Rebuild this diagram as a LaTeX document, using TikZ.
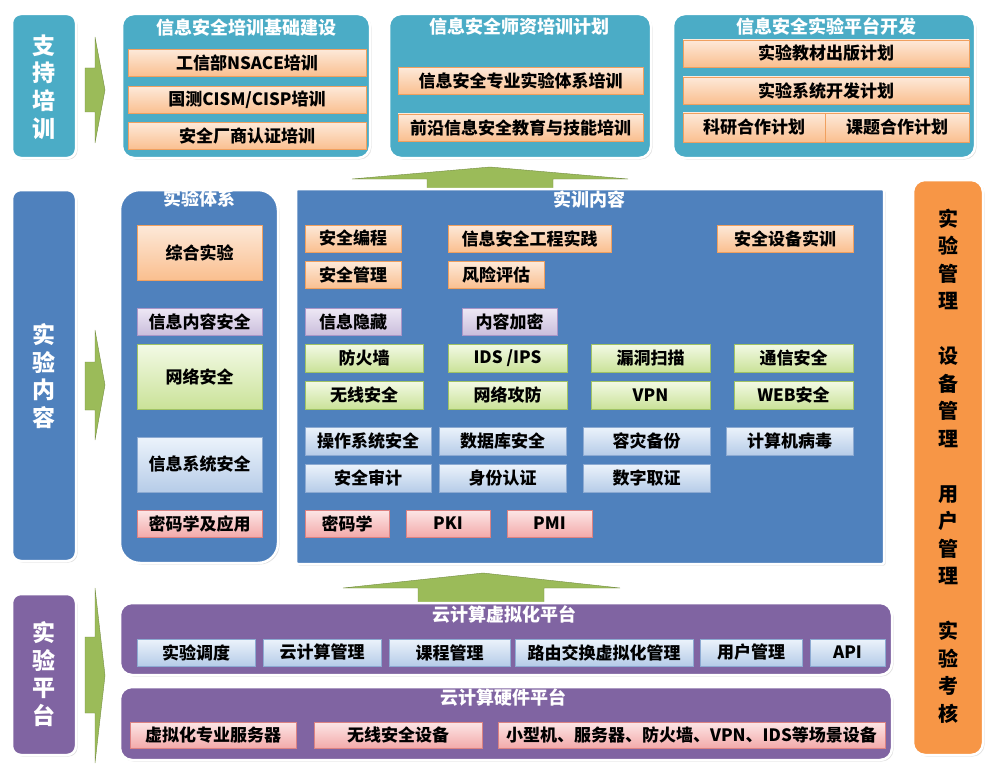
\documentclass[tikz,border=0pt]{standalone}
\usepackage{fontspec}
\setmainfont{Noto Sans CJK SC}
\usetikzlibrary{shadows}
\definecolor{tealbg}{RGB}{75,172,198}
\definecolor{bluebg}{RGB}{79,129,189}
\definecolor{purplebg}{RGB}{128,100,162}
\definecolor{orangebar}{RGB}{247,150,70}
\definecolor{arrowgreen}{RGB}{155,187,89}
\definecolor{toporg}{RGB}{253,233,217}
\definecolor{botorg}{RGB}{250,191,143}
\definecolor{lineorg}{RGB}{240,160,95}
\definecolor{topvio}{RGB}{238,232,245}
\definecolor{botvio}{RGB}{202,190,220}
\definecolor{linevio}{RGB}{170,150,200}
\definecolor{topgrn}{RGB}{243,250,230}
\definecolor{botgrn}{RGB}{202,226,152}
\definecolor{linegrn}{RGB}{160,195,100}
\definecolor{topblu}{RGB}{236,243,251}
\definecolor{botblu}{RGB}{182,204,232}
\definecolor{lineblu}{RGB}{140,170,210}
\definecolor{topred}{RGB}{252,230,230}
\definecolor{botred}{RGB}{243,170,170}
\definecolor{linered}{RGB}{220,130,130}

\begin{document}
\begin{tikzpicture}[x=1pt,y=-1pt,
	panel/.style={draw=white,line width=2.5pt,rounded corners=12pt,drop shadow={opacity=0.25,shadow xshift=1.5pt,shadow yshift=-1.5pt}},
	heading/.style={text=white,inner sep=0pt,font=\fontsize{18}{20}\selectfont\bfseries},
	cell/.style={draw=line#1,top color=top#1,bottom color=bot#1,minimum height=27pt,inner sep=0pt,font=\fontsize{17}{19}\selectfont\bfseries,drop shadow={opacity=0.3,shadow xshift=1pt,shadow yshift=-1pt}},
	vlabel/.style={align=center,text=white,inner sep=0pt,font=\fontsize{23}{27.7}\selectfont\bfseries},
	blockarrow/.style={fill=arrowgreen,draw=arrowgreen!75!black,line width=0.4pt}]
	\useasboundingbox (0,0) rectangle (1001,773);
	\foreach \ya/\yb/\yc/\yd in {37/68/112/143,330/362/410/440,588/637/713/763}{
		\filldraw[blockarrow] (85,\yb) -- (95,\yb) -- (95,\ya) -- (105,{(\ya+\yd)/2}) -- (95,\yd) -- (95,\yc) -- (85,\yc) -- cycle;}
	\filldraw[blockarrow] (427,190) -- (427,179) -- (352,179) -- (490,167) -- (628,179) -- (553,179) -- (553,190) -- cycle;
	\filldraw[blockarrow] (418,604) -- (418,588) -- (343,588) -- (483,573) -- (620,588) -- (544,588) -- (544,604) -- cycle;
%	left column
	\filldraw[panel,rounded corners=9pt,fill=tealbg] (12,14) rectangle (76,158);
	\node[vlabel] (zcpx) at (44,87) {支\\持\\培\\训};
	\filldraw[panel,rounded corners=9pt,fill=bluebg] (12,190) rectangle (76,561);
	\node[vlabel] (synr) at (44,376) {实\\验\\内\\容};
	\filldraw[panel,rounded corners=9pt,fill=purplebg] (12,594) rectangle (76,755);
	\node[vlabel] (sypt) at (44,674) {实\\验\\平\\台};
%	training row
	\filldraw[panel,fill=tealbg] (122,14) rectangle (370,158);
	\node[heading] (jcjs) at (246,28) {信息安全培训基础建设};
	\foreach \y/\txt [count=\i] in {63/工信部NSACE培训,100/{国测CISM/CISP培训},136/安全厂商认证培训}{
		\node[cell=org,minimum width=238pt] (jc\i) at (247,\y) {\txt};}
	\filldraw[panel,fill=tealbg] (389,14) rectangle (651,158);
	\node[heading] (szpx) at (519,27) {信息安全师资培训计划};
	\foreach \y/\txt [count=\i] in {81/信息安全专业实验体系培训,127.5/前沿信息安全教育与技能培训}{
		\node[cell=org,minimum width=245pt] (sz\i) at (520.5,\y) {\txt};}
	\filldraw[panel,fill=tealbg] (673,14) rectangle (975,158);
	\node[heading] (ptkf) at (826,27) {信息安全实验平台开发};
	\foreach \y/\txt [count=\i] in {53.5/实验教材出版计划,90.5/实验系统开发计划}{
		\node[cell=org,minimum width=286pt] (pt\i) at (826,\y) {\txt};}
	\node[cell=org,minimum width=142pt,minimum height=29pt] (pt3) at (754,127.5) {科研合作计划};
	\node[cell=org,minimum width=144pt,minimum height=29pt] (pt4) at (897,127.5) {课题合作计划};
%	experiment system
	\filldraw[panel,rounded corners=20pt,fill=bluebg] (120,190) rectangle (278,563);
	\node[heading] (sytx) at (199,199) {实验体系};
	\foreach \y/\h/\c/\txt [count=\i] in {252.5/55/org/综合实验,321.5/27/vio/信息内容安全,376.5/65/grn/网络安全,464.5/55/blu/信息系统安全,523.5/27/red/密码学及应用}{
		\node[cell=\c,minimum width=125pt,minimum height=\h pt] (tx\i) at (199.5,\y) {\txt};}
%	training content
	\filldraw[panel,rounded corners=2pt,fill=bluebg] (296,189) rectangle (884,564);
	\node[heading] (sxnr) at (589,200) {实训内容};
	\node[cell=org,minimum width=96pt] (nr1) at (353,238.5) {安全编程};
	\node[cell=org,minimum width=163pt] (nr2) at (529.5,238.5) {信息安全工程实践};
	\node[cell=org,minimum width=136pt] (nr3) at (785,238.5) {安全设备实训};
	\node[cell=org,minimum width=96pt] (nr4) at (353,275) {安全管理};
	\node[cell=org,minimum width=96pt] (nr5) at (496,275) {风险评估};
	\node[cell=vio,minimum width=96pt] (nr6) at (353,321.5) {信息隐藏};
	\node[cell=vio,minimum width=95pt] (nr7) at (509.5,321.5) {内容加密};
	\foreach \x/\w/\ta/\tb [count=\i] in {364/118/防火墙/无线安全,507.5/119/{IDS /IPS}/网络攻防,650.5/119/漏洞扫描/VPN,793.5/119/通信安全/WEB安全}{
		\node[cell=grn,minimum width=\w pt,minimum height=28pt] (wa\i) at (\x,358) {\ta};
		\node[cell=grn,minimum width=\w pt,minimum height=28pt] (wb\i) at (\x,395) {\tb};}
	\foreach \x/\w/\ta/\tb [count=\i] in {368/126/操作系统安全/安全审计,502.5/127/数据库安全/身份认证,646.5/127/容灾备份/数字取证}{
		\node[cell=blu,minimum width=\w pt,minimum height=28pt] (xa\i) at (\x,441) {\ta};
		\node[cell=blu,minimum width=\w pt,minimum height=28pt] (xb\i) at (\x,478) {\tb};}
	\node[cell=blu,minimum width=127pt,minimum height=28pt] (xa4) at (789.5,441) {计算机病毒};
	\foreach \x/\w/\txt [count=\i] in {347/84/密码学,448/84/PKI,549.5/85/PMI}{
		\node[cell=red,minimum width=\w pt] (mm\i) at (\x,523.5) {\txt};}
%	platform
	\filldraw[panel,fill=purplebg] (120,603) rectangle (892,675);
	\node[heading] (xnh) at (504,615) {云计算虚拟化平台};
	\foreach \x/\w/\txt [count=\i] in {196/118/实验调度,322/118/云计算管理,449.5/121/课程管理,604/178/路由交换虚拟化管理,751/102/用户管理,847.5/75/API}{
		\node[cell=blu,minimum width=\w pt] (xn\i) at (\x,652.5) {\txt};}
	\filldraw[panel,fill=purplebg] (120,687) rectangle (892,760);
	\node[heading] (yj) at (503,698) {云计算硬件平台};
	\foreach \x/\w/\txt [count=\i] in {213/166/虚拟化专业服务器,398/168/无线安全设备,691.5/387/小型机、服务器、防火墙、VPN、IDS等场景设备}{
		\node[cell=red,minimum width=\w pt,minimum height=26pt] (yj\i) at (\x,735) {\txt};}
%	management
	\filldraw[panel,fill=orangebar] (913,180) rectangle (983,755);
	\node[vlabel,text=black,font=\fontsize{20}{27.5}\selectfont\bfseries] (gl) at (948,466) {实\\验\\管\\理\\[27.5pt]设\\备\\管\\理\\[27.5pt]用\\户\\管\\理\\[27.5pt]实\\验\\考\\核};
\end{tikzpicture}
\end{document}
